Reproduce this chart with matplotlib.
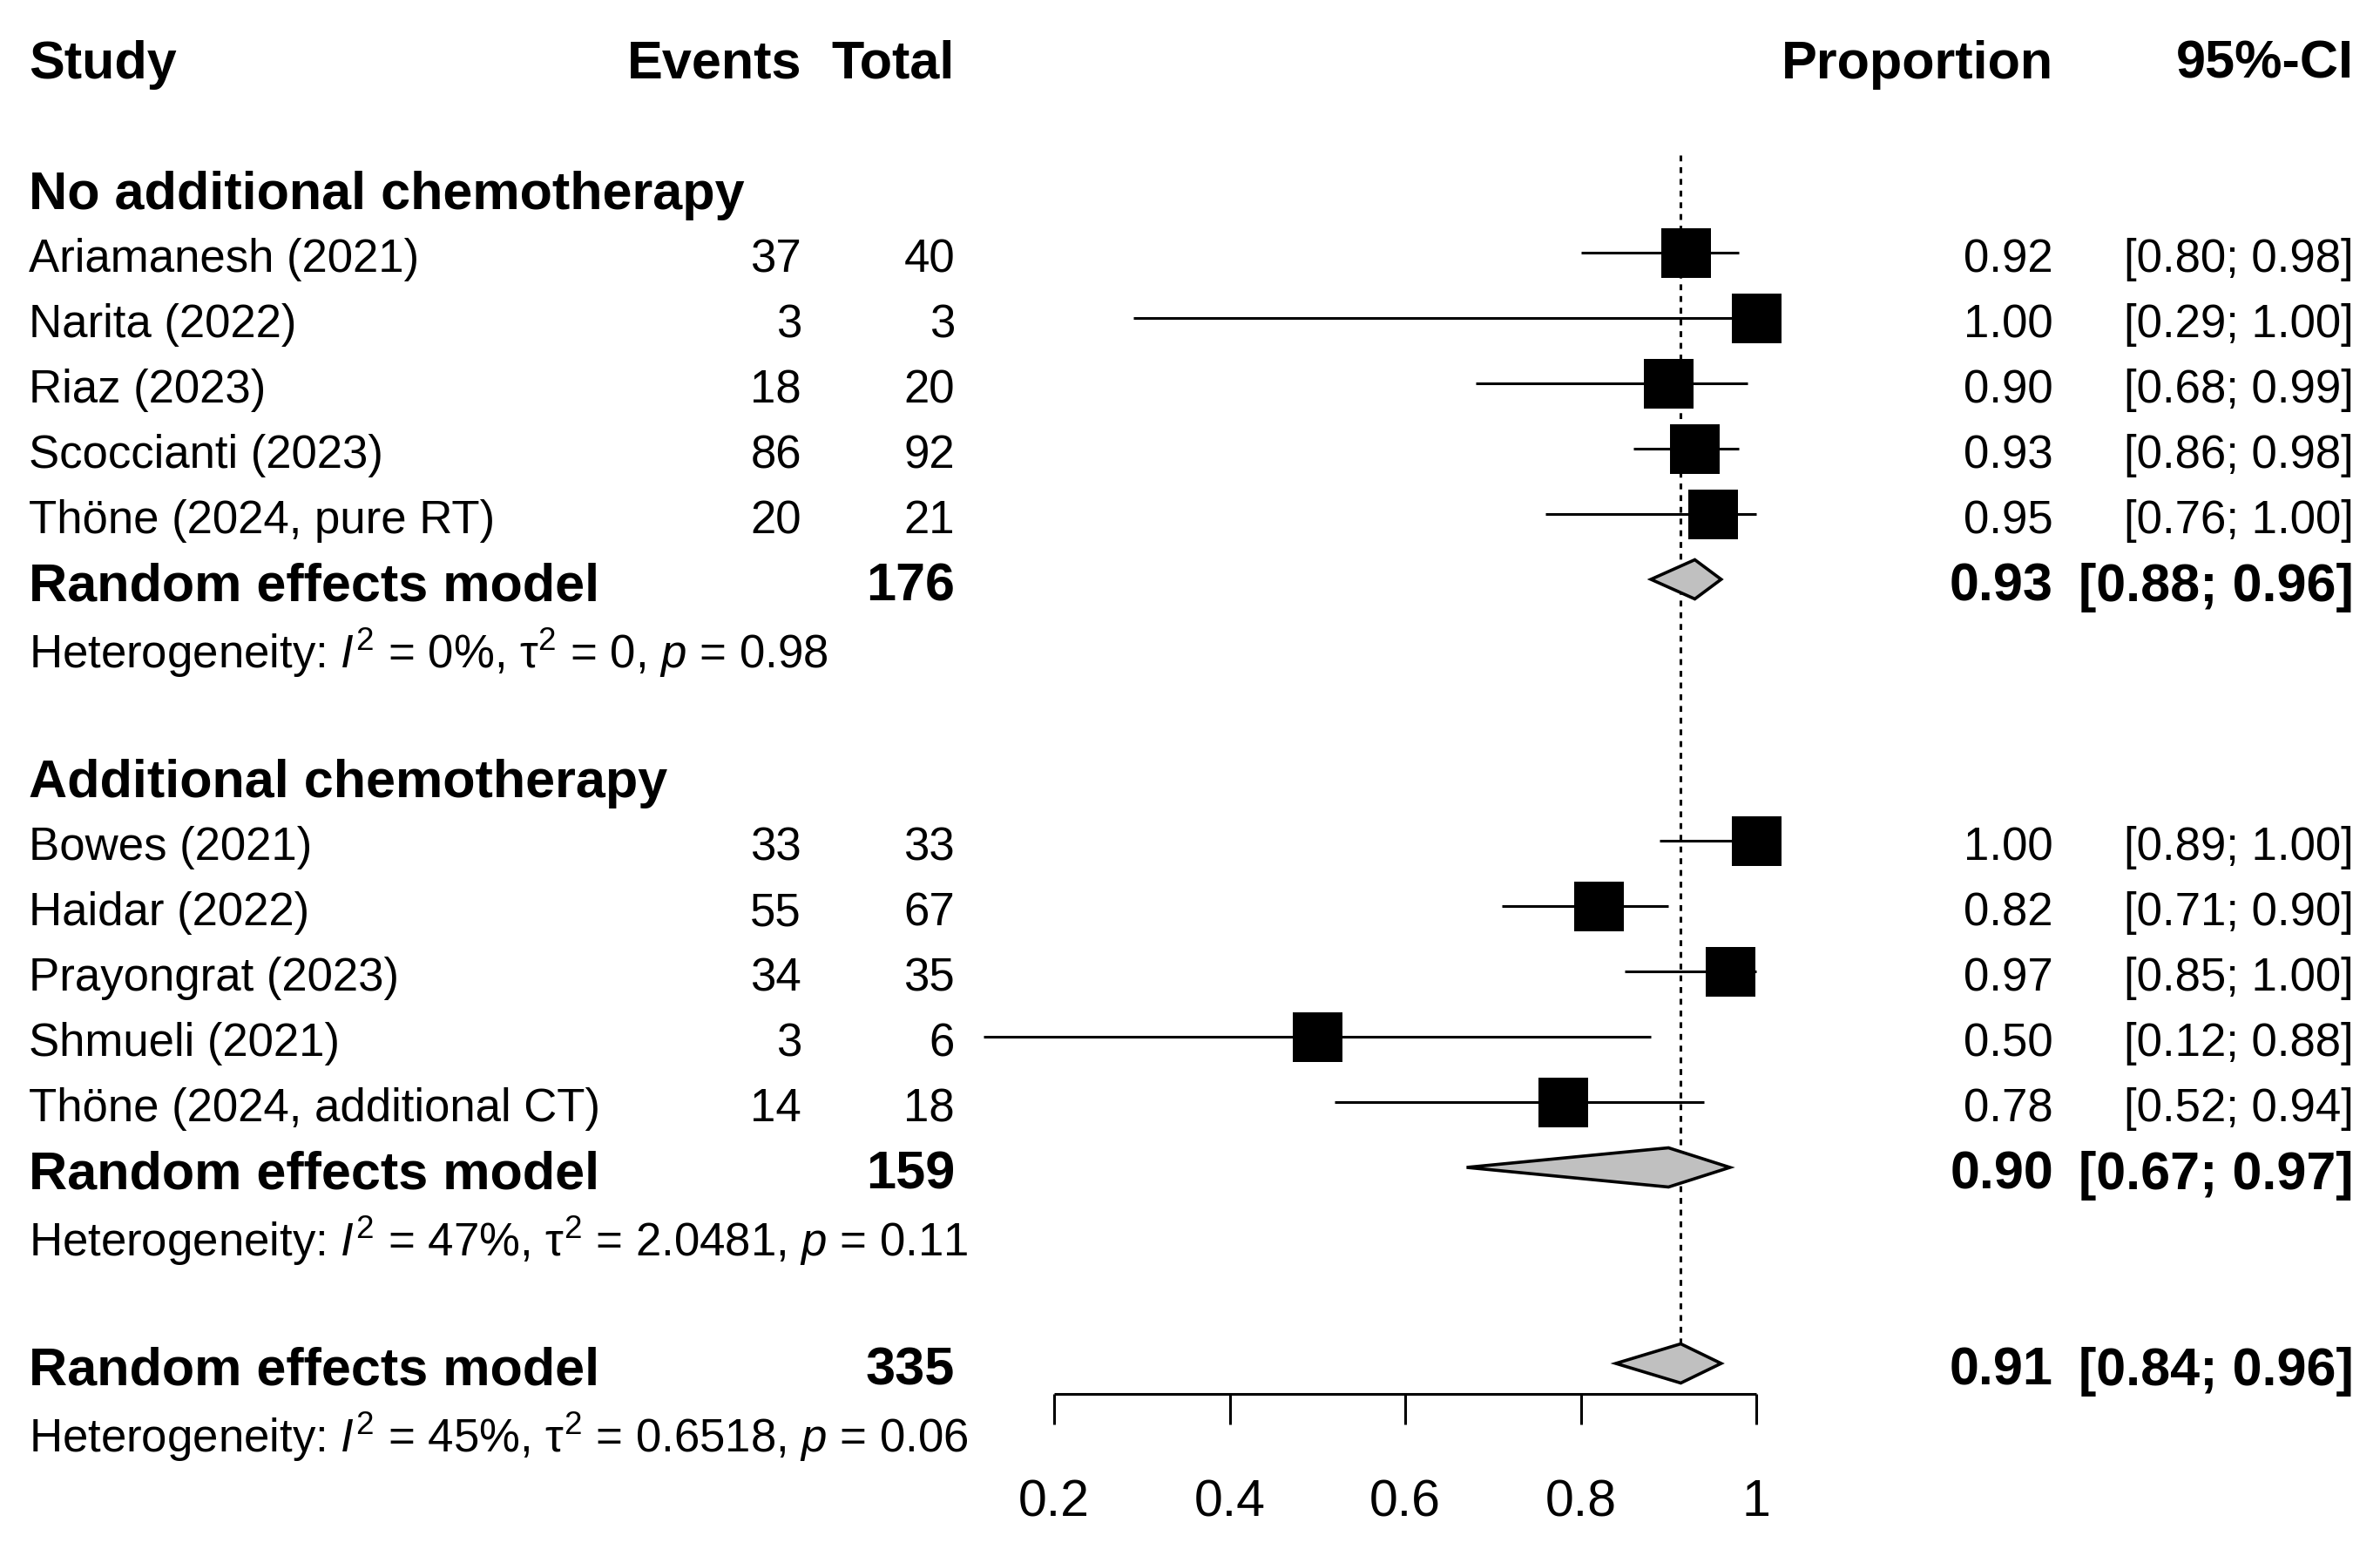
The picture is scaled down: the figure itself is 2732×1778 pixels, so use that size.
import numpy as np
import matplotlib.pyplot as plt
from matplotlib.patches import Polygon

plt.rcParams['font.family'] = ['Liberation Sans', 'DejaVu Sans']
plt.rcParams['mathtext.fontset'] = 'custom'
plt.rcParams['mathtext.rm'] = 'Liberation Sans'
plt.rcParams['mathtext.it'] = 'Liberation Sans:italic'
plt.rcParams['mathtext.bf'] = 'Liberation Sans:bold'

# study level data
group1_studies = ["Ariamanesh (2021)", "Narita (2022)", "Riaz (2023)",
                  "Scoccianti (2023)", "Thöne (2024, pure RT)"]
group1_events = [37, 3, 18, 86, 20]
group1_total = [40, 3, 20, 92, 21]
group1_prop = [0.92, 1.00, 0.90, 0.93, 0.95]
group1_lower = [0.80, 0.29, 0.68, 0.86, 0.76]
group1_upper = [0.98, 1.00, 0.99, 0.98, 1.00]

group2_studies = ["Bowes (2021)", "Haidar (2022)", "Prayongrat (2023)",
                  "Shmueli (2021)", "Thöne (2024, additional CT)"]
group2_events = [33, 55, 34, 3, 14]
group2_total = [33, 67, 35, 6, 18]
group2_prop = [1.00, 0.82, 0.97, 0.50, 0.78]
group2_lower = [0.89, 0.71, 0.85, 0.12, 0.52]
group2_upper = [1.00, 0.90, 1.00, 0.88, 0.94]

group_names = ["No additional chemotherapy", "Additional chemotherapy"]
re_total = [176, 159]
re_prop = [0.93, 0.90]
re_lower = [0.88, 0.67]
re_upper = [0.96, 0.97]
re_het = [r"Heterogeneity: $\mathit{I}^{2}$ = 0%, τ$^{2}$ = 0, $\mathit{p}$ = 0.98",
          r"Heterogeneity: $\mathit{I}^{2}$ = 47%, τ$^{2}$ = 2.0481, $\mathit{p}$ = 0.11"]

overall_total = 335
overall_prop = 0.914
overall_lower = 0.84
overall_upper = 0.96
overall_het = r"Heterogeneity: $\mathit{I}^{2}$ = 45%, τ$^{2}$ = 0.6518, $\mathit{p}$ = 0.06"

axis_ticks = [0.2, 0.4, 0.6, 0.8, 1.0]
axis_labels = ["0.2", "0.4", "0.6", "0.8", "1"]

# layout (figure fractions for text columns, rows for y)
W, H = 2732, 1778
row0_px, row_px = 65, 75
x_study, x_events, x_total, x_prop, x_ci = 33/W, 920/W, 1096/W, 2357/W, 2702/W
fs = 19
fs_bold = 22
fs_tick = 21.3
lw = 1.1
sq_size = (57*72/200)**2
dia_h = 0.3
text_dy = 0.035

fig = plt.figure(figsize=(W/200, H/200), dpi=200)
ax = fig.add_axes([0, 0, 1, 1])
ax.axis("off")
# proportion scale: 0.2 -> 1210 px, 1.0 -> 2016 px
ppu = (2016-1210)/0.8
ax.set_xlim(0.2 - 1210/ppu, 0.2 + (W-1210)/ppu)
ax.set_ylim((H-row0_px)/row_px, -row0_px/row_px)
tr = ax.get_yaxis_transform()


def txt(x, y, s, ha="left", bold=False):
    ax.text(x, y + text_dy, s, transform=tr, ha=ha, va="center_baseline",
            fontsize=fs_bold if bold else fs,
            fontweight="bold" if bold else "normal")


def diamond(y, est, lo, hi):
    poly = Polygon([(lo, y), (est, y-dia_h), (hi, y), (est, y+dia_h)],
                   closed=True, facecolor="#c0c0c0", edgecolor="black",
                   linewidth=1.3, zorder=3)
    ax.add_patch(poly)


# header
txt(x_study, 0, "Study", bold=True)
txt(x_events, 0, "Events", ha="right", bold=True)
txt(x_total, 0, "Total", ha="right", bold=True)
txt(x_prop, 0, "Proportion", ha="right", bold=True)
txt(x_ci, 0, "95%-CI", ha="right", bold=True)

groups = [
    (group1_studies, group1_events, group1_total, group1_prop, group1_lower, group1_upper),
    (group2_studies, group2_events, group2_total, group2_prop, group2_lower, group2_upper),
]
start_rows = [2, 11]

for g, (studies, ev, tot, prop, lo, hi) in enumerate(groups):
    r = start_rows[g]
    txt(x_study, r, group_names[g], bold=True)
    rows = np.arange(len(studies)) + r + 1
    for i, y in enumerate(rows):
        txt(x_study, y, studies[i])
        txt(x_events, y, str(ev[i]), ha="right")
        txt(x_total, y, str(tot[i]), ha="right")
        txt(x_prop, y, "%.2f" % prop[i], ha="right")
        txt(x_ci, y, "[%.2f; %.2f]" % (lo[i], hi[i]), ha="right")
    ax.hlines(rows, lo, hi, color="black", linewidth=lw, zorder=2)
    ax.scatter(prop, rows, marker="s", s=sq_size, color="black",
               linewidths=0, zorder=4)
    yr = rows[-1] + 1
    txt(x_study, yr, "Random effects model", bold=True)
    txt(x_total, yr, str(re_total[g]), ha="right", bold=True)
    txt(x_prop, yr, "%.2f" % re_prop[g], ha="right", bold=True)
    txt(x_ci, yr, "[%.2f; %.2f]" % (re_lower[g], re_upper[g]), ha="right", bold=True)
    diamond(yr, re_prop[g], re_lower[g], re_upper[g])
    txt(x_study, yr + 1, re_het[g])

# overall
yo = 20
txt(x_study, yo, "Random effects model", bold=True)
txt(x_total, yo, str(overall_total), ha="right", bold=True)
txt(x_prop, yo, "%.2f" % overall_prop, ha="right", bold=True)
txt(x_ci, yo, "[%.2f; %.2f]" % (overall_lower, overall_upper), ha="right", bold=True)
diamond(yo, overall_prop, overall_lower, overall_upper)
txt(x_study, yo + 1, overall_het)

# reference line at the overall estimate
ax.vlines(overall_prop, 1.5, yo, color="black", linewidth=lw,
          linestyles=(0, (2.2, 2.2)), zorder=1)

# x axis
axis_y = 20.47
tick_len = 0.47
ax.hlines(axis_y, axis_ticks[0], axis_ticks[-1], color="black", linewidth=lw)
ax.vlines(axis_ticks, axis_y, axis_y + tick_len, color="black", linewidth=lw)
for t, lab in zip(axis_ticks, axis_labels):
    ax.text(t, 22.05, lab, ha="center", va="center_baseline", fontsize=fs_tick)

fig.savefig("out.png", dpi=200, facecolor="white")
